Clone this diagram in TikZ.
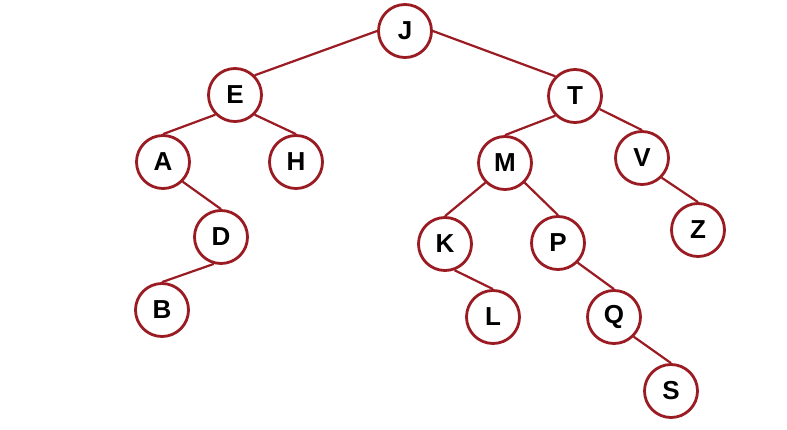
\documentclass[tikz,border=0pt]{standalone}
\usepackage{fontspec}
\setmainfont{Liberation Sans}
\definecolor{treered}{RGB}{155,27,35}
\begin{document}
\begin{tikzpicture}[
  x=1pt, y=-1pt,
  key/.style={draw=treered, line width=2.8pt, circle, minimum size=53pt, inner sep=0pt, font=\bfseries\fontsize{26}{26}\selectfont},
  link/.style={draw=treered, line width=2.2pt}
]
\useasboundingbox[fill=white] (0,0) rectangle (787,430);

\node[key] (J) at (405,31) {J};
\node[key] (E) at (235,95) {E};
\node[key] (T) at (575,96) {T};
\node[key] (A) at (163,162) {A};
\node[key] (H) at (296,162) {H};
\node[key] (M) at (505,163) {M};
\node[key] (V) at (642,158) {V};
\node[key] (D) at (221,237) {D};
\node[key] (K) at (445,244) {K};
\node[key] (P) at (558,243) {P};
\node[key] (Z) at (698,230) {Z};
\node[key] (B) at (162,310) {B};
\node[key] (L) at (493,317) {L};
\node[key] (Q) at (614,317) {Q};
\node[key] (S) at (671,391) {S};

% links leave the parent at a side, meet the child at its top
\draw[link] (J.west) -- (E.north east);
\draw[link] (J.east) -- (T.north west);
\draw[link] (E.south west) -- (A.north);
\draw[link] (E.south east) -- (H.north);
\draw[link] (A.south east) -- (D.north);
\draw[link] (D.-105) -- (B.north);
\draw[link] (T.south west) -- (M.north);
\draw[link] (T.-28) -- (V.north);
\draw[link] (M.south west) -- (K.north);
\draw[link] (M.south east) -- (P.north);
\draw[link] (K.-70) -- (L.north);
\draw[link] (P.south east) -- (Q.north);
\draw[link] (Q.south east) -- (S.north);
\draw[link] (V.south east) -- (Z.north);
\end{tikzpicture}
\end{document}
